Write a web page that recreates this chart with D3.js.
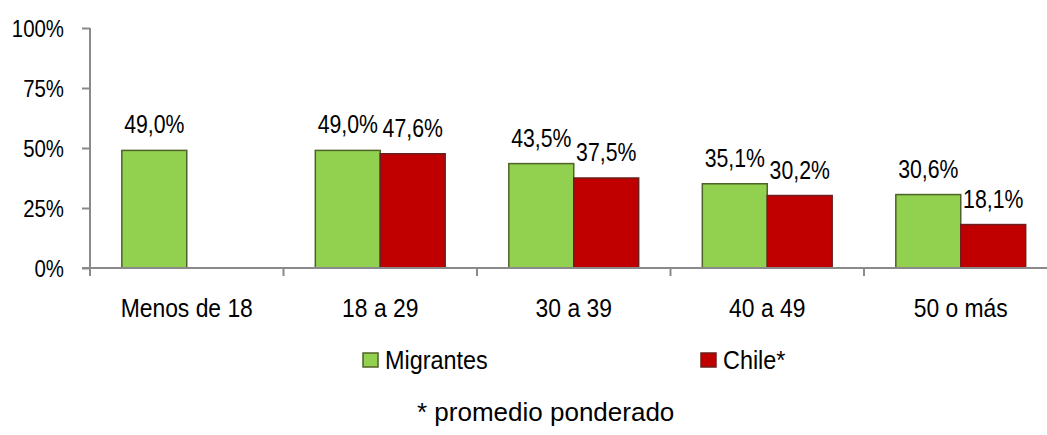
<!DOCTYPE html>
<html>
<head>
<meta charset="utf-8">
<script src="https://cdn.jsdelivr.net/npm/d3@7"></script>
<style>
  body { margin: 0; background: #fff; }
  text { font-family: "Liberation Sans", Arial, sans-serif; fill: #000; }
</style>
</head>
<body>
<div id="chart"></div>
<script>
// data
var categories = ["Menos de 18", "18 a 29", "30 a 39", "40 a 49", "50 o más"];
var series = ["Migrantes", "Chile*"];
var migrantes = [49.0, 49.0, 43.5, 35.1, 30.6];
var chile = [null, 47.6, 37.5, 30.2, 18.1];
var yTicks = [0, 25, 50, 75, 100];
var colors = { "Migrantes": "#92d050", "Chile*": "#c00000" };
var strokes = { "Migrantes": "#4f6228", "Chile*": "#6b1f1f" };

var width = 1047, height = 435;
var margin = { top: 28, left: 90, bottom: 167 };
var axisColor = "#8a8a8a";

// narrow text: place at (x,y) and squeeze horizontally
function squeeze(sel, fx, fy, sx) {
  sel.attr("x", 0).attr("y", 0)
     .attr("transform", function(d, i) {
       return "translate(" + fx(d, i) + "," + fy(d, i) + ") scale(" + sx + ",1)";
     });
}

var svg = d3.select("#chart").append("svg")
    .attr("width", width)
    .attr("height", height);

// scales
var x0 = d3.scaleBand()
    .domain(categories)
    .range([margin.left, margin.left + 5 * 193.5])
    .padding(0);

var x1 = d3.scaleBand()
    .domain(series)
    .range([0, x0.bandwidth()])
    .paddingInner(0)
    .paddingOuter(0.49);

var y = d3.scaleLinear()
    .domain([0, 100])
    .range([height - margin.bottom, margin.top]);

var rows = categories.map(function(c, i) {
  return { cat: c, values: [
    { key: "Migrantes", value: migrantes[i] },
    { key: "Chile*", value: chile[i] }
  ]};
});

// y axis
var yAxis = svg.append("g")
    .attr("transform", "translate(" + margin.left + ",0)")
    .call(d3.axisLeft(y).tickValues(yTicks).tickSize(8).tickPadding(18)
      .tickFormat(function(d) { return d + "%"; }));
yAxis.select(".domain").attr("stroke", axisColor).attr("stroke-width", 2)
    .attr("d", "M0," + y(100) + "V" + y(0));
yAxis.selectAll(".tick line").attr("stroke", axisColor).attr("stroke-width", 2);
yAxis.selectAll(".tick text")
    .style("font-size", "24px")
    .attr("dy", "0.36em")
    .call(squeeze, function() { return -26; }, function() { return 0; }, 0.85);

// bars
var groups = svg.selectAll(".grp")
    .data(rows)
  .enter().append("g")
    .attr("class", "grp")
    .attr("transform", function(d) { return "translate(" + x0(d.cat) + ",0)"; });

groups.selectAll("rect")
    .data(function(d) { return d.values.filter(function(v) { return v.value != null; }); })
  .enter().append("rect")
    .attr("x", function(d) { return x1(d.key); })
    .attr("y", function(d) { return y(d.value); })
    .attr("width", x1.bandwidth())
    .attr("height", function(d) { return y(0) - y(d.value); })
    .attr("fill", function(d) { return colors[d.key]; })
    .attr("stroke", function(d) { return strokes[d.key]; })
    .attr("stroke-width", 1.5);

groups.selectAll(".lbl")
    .data(function(d) { return d.values.filter(function(v) { return v.value != null; }); })
  .enter().append("text")
    .attr("class", "lbl")
    .attr("text-anchor", "middle")
    .style("font-size", "25px")
    .text(function(d) { return d.value.toFixed(1).replace(".", ",") + "%"; })
    .call(squeeze,
      function(d) { return x1(d.key) + x1.bandwidth() / 2; },
      function(d) { return y(d.value) - 17; }, 0.85);

// x axis
svg.append("line")
    .attr("x1", margin.left - 8).attr("x2", width)
    .attr("y1", y(0)).attr("y2", y(0))
    .attr("stroke", axisColor).attr("stroke-width", 2);

svg.selectAll(".xtick")
    .data(categories)
  .enter().append("line")
    .attr("class", "xtick")
    .attr("x1", function(d) { return x0(d); }).attr("x2", function(d) { return x0(d); })
    .attr("y1", y(0)).attr("y2", y(0) + 8)
    .attr("stroke", axisColor).attr("stroke-width", 2);

svg.selectAll(".xlbl")
    .data(categories)
  .enter().append("text")
    .attr("class", "xlbl")
    .attr("text-anchor", "middle")
    .style("font-size", "26px")
    .text(function(d) { return d; })
    .call(squeeze,
      function(d) { return x0(d) + x0.bandwidth() / 2; },
      function() { return 317; }, 0.88);

// legend
var legendPos = [363, 701];
var legend = svg.selectAll(".leg")
    .data(series)
  .enter().append("g")
    .attr("class", "leg")
    .attr("transform", function(d, i) { return "translate(" + legendPos[i] + ",353)"; });
legend.append("rect")
    .attr("width", 15).attr("height", 14)
    .attr("fill", function(d) { return colors[d]; })
    .attr("stroke", function(d) { return strokes[d]; })
    .attr("stroke-width", 1.5);
legend.append("text")
    .style("font-size", "26px")
    .text(function(d) { return d; })
    .call(squeeze, function() { return 22; }, function() { return 16; }, 0.9);

// footnote
svg.append("text")
    .attr("x", 417).attr("y", 421)
    .style("font-size", "26px")
    .text("* promedio ponderado");
</script>
</body>
</html>
